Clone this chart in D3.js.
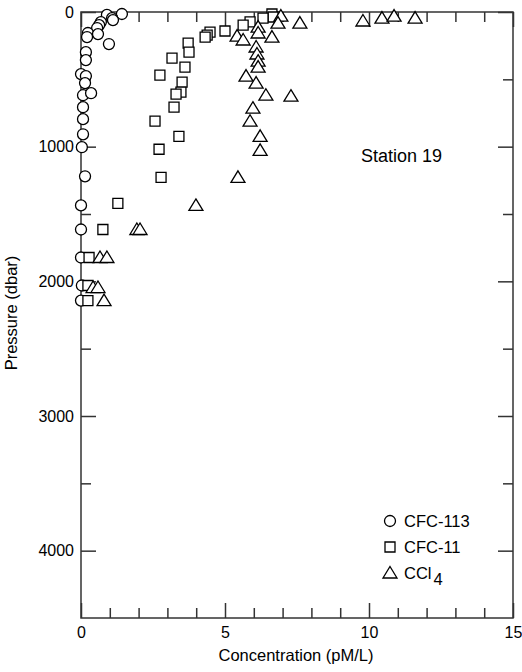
<!DOCTYPE html>
<html>
<head>
<meta charset="utf-8">
<script src="https://cdn.jsdelivr.net/npm/d3@7/dist/d3.min.js"></script>
<style>
  body { margin: 0; background: #fff; }
  text { font-family: "Liberation Sans", Arial, Helvetica, sans-serif; }
</style>
</head>
<body>
<svg id="chart" width="522" height="672"></svg>
<script>
// CFC-113 profile: concentration (pM/L) and pressure (dbar)
const cfc113Conc = [0.90, 1.42, 1.08, 1.11, 0.69, 0.63, 0.56, 0.24, 0.59, 0.21, 0.97, 0.17, 0.17, 0.00, 0.17, 0.14, 0.07, 0.35, 0.07, 0.07, 0.07, 0.03, 0.14, 0.00, 0.00, 0.00, 0.03, 0.00];
const cfc113Pres = [22, 15, 45, 60, 75, 97, 119, 156, 164, 186, 238, 298, 357, 461, 476, 528, 618, 603, 707, 796, 908, 1004, 1220, 1436, 1615, 1823, 2031, 2143];

// CFC-11 profile
const cfc11Conc = [6.63, 6.67, 6.32, 5.87, 5.63, 5.00, 4.48, 4.38, 4.31, 3.72, 3.75, 3.16, 3.61, 2.74, 3.51, 3.47, 3.30, 3.23, 2.57, 3.40, 2.71, 2.78, 1.28, 0.76, 0.28, 0.24, 0.24];
const cfc11Pres = [15, 37, 45, 74, 97, 141, 149, 171, 186, 231, 298, 342, 409, 469, 521, 595, 610, 707, 811, 923, 1019, 1228, 1421, 1615, 1823, 2031, 2143];

// CCl4 profile
const ccl4Conc = [6.94, 6.84, 7.60, 6.15, 6.15, 5.42, 5.63, 6.63, 6.08, 6.11, 6.15, 6.15, 5.73, 6.08, 6.42, 7.29, 5.97, 5.87, 6.22, 6.22, 5.45, 3.99, 1.94, 2.05, 0.66, 0.90, 0.42, 0.59, 0.80, 9.79, 10.45, 10.87, 11.60];
const ccl4Pres = [30, 82, 82, 112, 156, 179, 208, 186, 260, 312, 365, 409, 476, 528, 618, 625, 714, 811, 923, 1027, 1228, 1436, 1615, 1615, 1823, 1823, 2046, 2046, 2143, 67, 45, 30, 45];

// Axis tick values and labels
const xMajorTicks = [0, 5, 10, 15];
const xMinorTicks = [1, 2, 3, 4, 6, 7, 8, 9, 11, 12, 13, 14];
const yMajorTicks = [0, 1000, 2000, 3000, 4000];
const yMinorTicks = [500, 1500, 2500, 3500];

const stationLabel = "Station 19";
const xTitle = "Concentration (pM/L)";
const yTitle = "Pressure (dbar)";

const svg = d3.select("#chart");
const margin = { left: 81, right: 9, top: 12, bottom: 54 };
const W = 522, H = 672;
const x = d3.scaleLinear().domain([0, 15]).range([margin.left, W - margin.right]);
const y = d3.scaleLinear().domain([0, 4500]).range([margin.top, H - margin.bottom]);

const axisColor = "#333";
const tickFont = 16;
const titleFont = 16.5;

// Frame
svg.append("rect")
  .attr("x", x(0)).attr("y", y(0))
  .attr("width", x(15) - x(0)).attr("height", y(4500) - y(0))
  .attr("fill", "none").attr("stroke", axisColor).attr("stroke-width", 1.5);

function styleAxis(g) {
  g.select(".domain").remove();
  g.selectAll(".tick line").attr("stroke", axisColor).attr("stroke-width", 1.5);
  g.selectAll("text").attr("font-size", tickFont).attr("fill", "#000")
    .attr("font-family", "'Liberation Sans', Arial, Helvetica, sans-serif");
}

// Bottom axis with labels (ticks pointing inward)
svg.append("g").attr("transform", `translate(0,${y(4500)})`)
  .call(d3.axisBottom(x).tickValues(xMajorTicks).tickSize(-15).tickPadding(9).tickFormat(d3.format("d")))
  .call(styleAxis);
svg.append("g").attr("transform", `translate(0,${y(4500)})`)
  .call(d3.axisBottom(x).tickValues(xMinorTicks).tickSize(-10).tickFormat(""))
  .call(styleAxis);
// Top axis (ticks only)
svg.append("g").attr("transform", `translate(0,${y(0)})`)
  .call(d3.axisTop(x).tickValues(xMajorTicks).tickSize(-15).tickFormat(""))
  .call(styleAxis);
svg.append("g").attr("transform", `translate(0,${y(0)})`)
  .call(d3.axisTop(x).tickValues(xMinorTicks).tickSize(-10).tickFormat(""))
  .call(styleAxis);
// Left axis with labels
svg.append("g").attr("transform", `translate(${x(0)},0)`)
  .call(d3.axisLeft(y).tickValues(yMajorTicks).tickSize(-15).tickPadding(7).tickFormat(d3.format("d")))
  .call(styleAxis);
svg.append("g").attr("transform", `translate(${x(0)},0)`)
  .call(d3.axisLeft(y).tickValues(yMinorTicks).tickSize(-10).tickFormat(""))
  .call(styleAxis);
// Right axis (ticks only)
svg.append("g").attr("transform", `translate(${x(15)},0)`)
  .call(d3.axisRight(y).tickValues(yMajorTicks).tickSize(-15).tickFormat(""))
  .call(styleAxis);
svg.append("g").attr("transform", `translate(${x(15)},0)`)
  .call(d3.axisRight(y).tickValues(yMinorTicks).tickSize(-10).tickFormat(""))
  .call(styleAxis);

// Axis titles
svg.append("text")
  .attr("x", (x(0) + x(15)) / 2 - 1).attr("y", 661)
  .attr("text-anchor", "middle").attr("font-size", titleFont)
  .text(xTitle);
svg.append("text")
  .attr("transform", `translate(17,${(y(0) + y(4500)) / 2 - 2}) rotate(-90)`)
  .attr("text-anchor", "middle").attr("font-size", titleFont)
  .text(yTitle);

// Station label
svg.append("text")
  .attr("x", 361).attr("y", 162)
  .attr("font-size", 18)
  .text(stationLabel);

// Marker shapes
const markerStroke = "#000";
const markerWidth = 1.3;
const circlePath = "M5.5,0A5.5,5.5 0 1,1 -5.5,0A5.5,5.5 0 1,1 5.5,0Z";
const squarePath = "M-5,-5H5V5H-5Z";
const trianglePath = "M0,-6.5L7,5H-7Z";

function drawSeries(conc, pres, path) {
  svg.append("g").selectAll("path")
    .data(d3.zip(conc, pres))
    .join("path")
    .attr("d", path)
    .attr("transform", d => `translate(${x(d[0])},${y(d[1])})`)
    .attr("fill", "#fff").attr("stroke", markerStroke).attr("stroke-width", markerWidth);
}

drawSeries(cfc113Conc, cfc113Pres, circlePath);
drawSeries(cfc11Conc, cfc11Pres, squarePath);
drawSeries(ccl4Conc, ccl4Pres, trianglePath);

// Legend
const legend = svg.append("g");
const legendItems = [
  { path: circlePath, y: 521, label: "CFC-113" },
  { path: squarePath, y: 547, label: "CFC-11" },
  { path: trianglePath, y: 573, label: "CCl" }
];
legendItems.forEach(item => {
  legend.append("path").attr("d", item.path)
    .attr("transform", `translate(390,${item.y})`)
    .attr("fill", "#fff").attr("stroke", markerStroke).attr("stroke-width", markerWidth);
  const t = legend.append("text")
    .attr("x", 404).attr("y", item.y + 6)
    .attr("font-size", titleFont)
    .text(item.label);
  if (item.label === "CCl") {
    t.append("tspan").attr("dx", 2).attr("dy", 6).text("4");
  }
});
</script>
</body>
</html>
